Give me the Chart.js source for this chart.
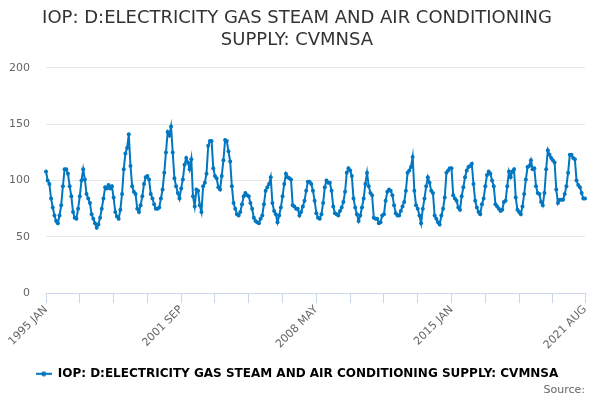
<!DOCTYPE html>
<html>
<head>
<meta charset="utf-8">
<title>IOP: D:ELECTRICITY GAS STEAM AND AIR CONDITIONING SUPPLY: CVMNSA</title>
<script src="https://cdn.jsdelivr.net/npm/chart.js@4.4.0/dist/chart.umd.min.js"></script>
<style>
  html, body { margin: 0; padding: 0; background: #ffffff; }
  #wrap { width: 600px; height: 400px; }
</style>
</head>
<body>
<div id="wrap"><canvas id="chart" width="600" height="400"></canvas></div>
<script>
// monthly index, Jan 1995 .. Aug 2021
var startYear = 1995;
var months = ['JAN', 'FEB', 'MAR', 'APR', 'MAY', 'JUN', 'JUL', 'AUG', 'SEP', 'OCT', 'NOV', 'DEC'];
var seriesName = 'IOP: D:ELECTRICITY GAS STEAM AND AIR CONDITIONING SUPPLY: CVMNSA';
var values = [
  108, 100, 97, 84, 76, 69, 64, 62, 69, 78, 95, 110,      // 1995
  110, 106, 95, 86, 72, 67, 66, 75, 86, 100, 110, 101,    // 1996
  88, 84, 80, 70, 66, 62, 58, 61, 67, 75, 84, 94,         // 1997
  93, 96, 93, 95, 85, 72, 68, 66, 74, 88, 110, 124,       // 1998
  129, 141, 113, 95, 90, 88, 75, 72, 78, 86, 97, 103,     // 1999
  104, 101, 88, 84, 79, 75, 75, 76, 84, 92, 107, 125,     // 2000
  143, 140, 148, 125, 102, 95, 89, 84, 93, 101, 114, 120, // 2001
  116, 110, 119, 86, 77, 92, 91, 78, 72, 95, 98, 106,     // 2002
  131, 135, 135, 111, 104, 102, 94, 92, 104, 118, 136, 135, // 2003
  126, 117, 95, 80, 75, 70, 69, 72, 79, 86, 89, 87,       // 2004
  86, 80, 75, 67, 64, 63, 62, 66, 69, 79, 91, 94,         // 2005
  97, 103, 80, 73, 70, 63, 69, 76, 86, 97, 106, 103,      // 2006
  102, 101, 78, 77, 75, 75, 69, 72, 77, 82, 91, 99,       // 2007
  99, 97, 91, 82, 71, 67, 66, 70, 80, 94, 100, 98,        // 2008
  98, 91, 77, 71, 70, 69, 73, 76, 81, 90, 107, 111,       // 2009
  109, 104, 84, 76, 70, 64, 69, 76, 84, 97, 107, 95,      // 2010
  89, 87, 67, 66, 66, 62, 63, 69, 70, 82, 90, 92,         // 2011
  91, 87, 78, 71, 69, 69, 73, 77, 81, 91, 107, 109,       // 2012
  112, 121, 91, 78, 75, 69, 62, 75, 84, 95, 103, 98,      // 2013
  91, 89, 69, 66, 63, 61, 69, 75, 85, 107, 109, 111,      // 2014
  111, 87, 84, 82, 76, 74, 86, 94, 103, 109, 112, 113,    // 2015
  115, 97, 82, 76, 72, 70, 79, 84, 95, 105, 108, 106,     // 2016
  100, 95, 79, 77, 75, 73, 74, 81, 82, 95, 108, 103,      // 2017
  108, 110, 85, 74, 72, 70, 77, 88, 101, 112, 113, 118,   // 2018
  110, 111, 95, 89, 88, 81, 78, 89, 110, 127, 123, 120,   // 2019
  118, 116, 92, 80, 83, 83, 83, 88, 95, 107, 123, 123,    // 2020
  120, 119, 100, 96, 94, 89, 84, 84                       // 2021
];
var yTicks = [0, 50, 100, 150, 200];

var categories = [];
for (var n = 0; n < values.length; n++) {
  categories.push((startYear + Math.floor(n / 12)) + ' ' + months[n % 12]);
}

var lineColor = '#0077c0';
var lastIdx = categories.length - 1;

// little line-with-dot marker for the legend
var marker = document.createElement('canvas');
marker.width = 16;
marker.height = 6;
var mc = marker.getContext('2d');
mc.strokeStyle = lineColor;
mc.lineWidth = 2;
mc.beginPath(); mc.moveTo(0, 3); mc.lineTo(16, 3); mc.stroke();
mc.fillStyle = lineColor;
mc.beginPath(); mc.arc(8, 3, 2.5, 0, Math.PI * 2); mc.fill();

Chart.defaults.font.family = "'DejaVu Sans', sans-serif";

new Chart(document.getElementById('chart'), {
  type: 'line',
  data: {
    labels: categories,
    datasets: [{
      label: seriesName,
      data: values,
      borderColor: lineColor,
      backgroundColor: lineColor,
      borderWidth: 2,
      pointRadius: 2,
      pointHoverRadius: 3,
      pointBackgroundColor: lineColor,
      pointBorderWidth: 0,
      tension: 0,
      fill: false
    }]
  },
  options: {
    responsive: false,
    animation: false,
    layout: { padding: { left: 9, right: 15, top: 0, bottom: 0 } },
    plugins: {
      title: {
        display: true,
        text: ['IOP: D:ELECTRICITY GAS STEAM AND AIR CONDITIONING', 'SUPPLY: CVMNSA'],
        color: '#333333',
        font: { size: 18, weight: 'normal', lineHeight: 1.22 },
        padding: { top: 7, bottom: 17 }
      },
      subtitle: {
        display: true,
        text: 'Source:',
        position: 'bottom',
        align: 'end',
        color: '#666666',
        font: { size: 11, weight: 'normal' },
        padding: { top: -6, bottom: 3 }
      },
      legend: {
        position: 'bottom',
        labels: {
          color: '#333333',
          font: { size: 12, weight: 'bold' },
          usePointStyle: true,
          pointStyleWidth: 16,
          padding: 6,
          generateLabels: function (chart) {
            return [{
              text: seriesName,
              pointStyle: marker,
              fillStyle: lineColor,
              strokeStyle: lineColor,
              lineWidth: 0,
              hidden: false,
              datasetIndex: 0
            }];
          }
        }
      },
      tooltip: { enabled: false }
    },
    scales: {
      x: {
        afterFit: function (scale) {
          // rotated labels may hang past the plot edge, as in the original
          scale.paddingLeft = 0;
          scale.paddingRight = 0;
          scale.height += 10;
        },
        grid: {
          drawOnChartArea: false,
          drawTicks: true,
          tickLength: 10,
          tickColor: '#ccd6eb'
        },
        border: { display: true, color: '#ccd6eb', width: 1 },
        ticks: {
          autoSkip: false,
          minRotation: 45,
          maxRotation: 45,
          padding: 0,
          color: '#666666',
          font: { size: 11 },
          callback: function (val, idx) {
            if (idx % 80 === 0 || idx === lastIdx) return categories[idx];
            if (idx % 20 === 0) return '';
            return null;
          }
        }
      },
      y: {
        min: yTicks[0],
        max: yTicks[yTicks.length - 1],
        afterBuildTicks: function (axis) {
          axis.ticks = yTicks.map(function (v) { return { value: v }; });
        },
        afterFit: function (scale) {
          scale.width = 37;
        },
        grid: { color: '#e6e6e6', drawTicks: false },
        border: { display: false },
        ticks: {
          padding: 16,
          color: '#666666',
          font: { size: 11 }
        }
      }
    }
  }
});
</script>
</body>
</html>
